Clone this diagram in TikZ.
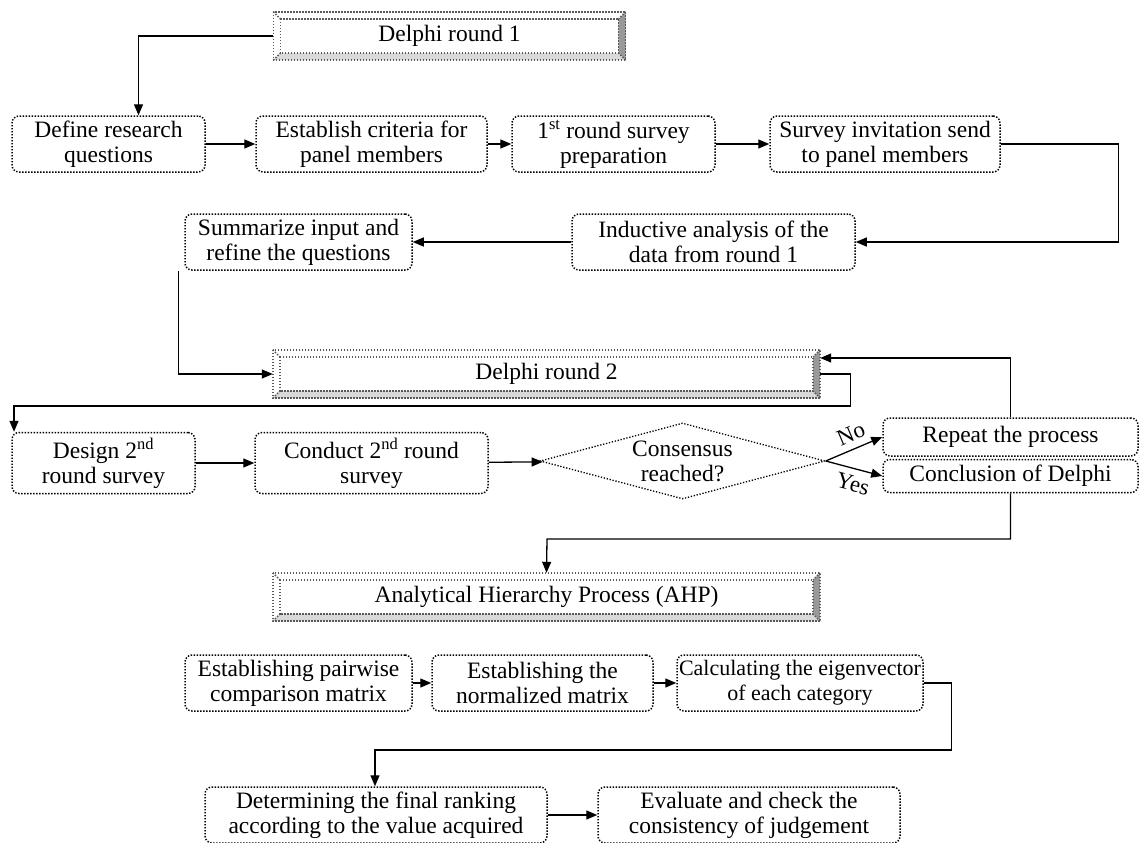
\documentclass[tikz,border=0pt]{standalone}
\usepackage{fontspec}
\setmainfont{Liberation Serif}
\usetikzlibrary{arrows.meta,shapes.geometric,calc}
\begin{document}
\begin{tikzpicture}[x=1pt,y=-1pt,
  every node/.style={inner sep=0pt, align=center},
  boxfont/.style={font=\fontsize{23.5}{25}\selectfont},
  stepbox/.style={boxfont, draw, line width=1.5pt, dash pattern=on 1.4pt off 1.6pt,
    rounded corners=7pt, minimum height=56pt},
  hdrbox/.style={boxfont, minimum height=48pt},
  decision/.style={boxfont, diamond, draw, line width=1.3pt, dash pattern=on 1.3pt off 1.7pt,
    minimum width=285pt, minimum height=76pt, aspect=3.75},
  arr/.style={line width=1.3pt, -{Triangle[length=11pt,width=9pt]}},
  answer/.style={font=\fontsize{23}{25}\selectfont, sloped},
  bandlight/.style={fill=black!15},
  banddark/.style={fill=black!40},
  hdrdots/.style={draw=black!65, line width=1.5pt, dash pattern=on 1.5pt off 1.5pt}
]
\useasboundingbox (0,0) rectangle (1141,843);

% ---------- header boxes with bevelled frame ----------
\node[hdrbox, minimum width=352pt] (h1) at (449.5,36) {Delphi round 1};
\node[hdrbox, minimum width=547pt] (h2) at (546.5,374) {Delphi round 2};
\node[hdrbox, minimum width=547pt] (h3) at (546.5,597) {Analytical Hierarchy Process (AHP)};

\foreach \n in {h1,h2,h3} {
  \coordinate (\n-a) at ([shift={(7,7)}]\n.north west);
  \coordinate (\n-b) at ([shift={(-7,7)}]\n.north east);
  \coordinate (\n-c) at ([shift={(-7,-7)}]\n.south east);
  \coordinate (\n-d) at ([shift={(7,-7)}]\n.south west);
  \fill[bandlight] (\n.south west) -- (\n.south east) -- (\n-c) -- (\n-d) -- cycle;
  \fill[banddark] (\n.north east) -- (\n.south east) -- (\n-c) -- (\n-b) -- cycle;
  \draw[hdrdots] (\n.north west) rectangle (\n.south east);
  \draw[hdrdots] (\n-a) rectangle (\n-c);
  \draw[hdrdots] (\n.north west) -- (\n-a) (\n.north east) -- (\n-b)
                 (\n.south east) -- (\n-c) (\n.south west) -- (\n-d);
}

% ---------- Delphi round 1 ----------
\node[stepbox, minimum width=193pt] (r1a) at (108.5,144) {Define research\\questions};
\node[stepbox, minimum width=231pt] (r1b) at (371.5,144) {Establish criteria for\\panel members};
\node[stepbox, minimum width=203pt] (r1c) at (613.5,144) {1\textsuperscript{st} round survey\\preparation};
\node[stepbox, minimum width=230pt] (r1d) at (885,144) {Survey invitation send\\to panel members};
\node[stepbox, minimum width=227pt] (r2a) at (298.5,242) {Summarize input and\\refine the questions};
\node[stepbox, minimum width=283pt] (r2b) at (713.5,242) {Inductive analysis of the\\data from round 1};

% ---------- Delphi round 2 ----------
\node[stepbox, minimum width=183pt, minimum height=61pt] (r3a) at (103.5,463) {Design 2\textsuperscript{nd}\\round survey};
\node[stepbox, minimum width=233pt, minimum height=61pt] (r3b) at (371.5,463) {Conduct 2\textsuperscript{nd} round\\survey};
\node[decision] (dec) at (682.5,461) {Consensus\\reached?};
\node[stepbox, minimum width=255pt, minimum height=38pt] (rep) at (1010.5,437) {Repeat the process};
\node[stepbox, minimum width=255pt, minimum height=33pt] (conc) at (1010.5,476) {Conclusion of Delphi};

% ---------- AHP ----------
\node[stepbox, minimum width=227pt] (r4a) at (298.5,683) {Establishing pairwise\\comparison matrix};
\node[stepbox, minimum width=221pt] (r4b) at (542.5,683) {Establishing the\\normalized matrix};
\node[stepbox, minimum width=246pt, font=\fontsize{22}{25}\selectfont] (r4c) at (800,683) {Calculating the eigenvector\\of each category};
\node[stepbox, minimum width=342pt] (r5a) at (376,815) {Determining the final ranking\\according to the value acquired};
\node[stepbox, minimum width=302pt] (r5b) at (749,815) {Evaluate and check the\\consistency of judgement};

% ---------- connectors ----------
\draw[arr] (h1.west) -| ([xshift=30pt]r1a.north);
\draw[arr] (r1a) -- (r1b);
\draw[arr] (r1b) -- (r1c);
\draw[arr] (r1c) -- (r1d);
\draw[arr] (r1d.east) -- ++(118,0) |- (r2b.east);
\draw[arr] (r2b) -- (r2a);
\draw[arr] ([xshift=-6pt]r2a.south west) |- (h2.west);
\draw[arr] (rep.north) |- ([yshift=16pt]h2.east);
\coordinate (drop) at (14,406);
\draw[arr] (h2.east) -- ++(30,0) |- (drop) -- (drop |- r3a.north);
\draw[arr] (r3a) -- (r3b);
\draw[arr] (r3b) -- (dec);
\draw[arr] (dec.east) -- node[answer, above=7pt, pos=0.55] {No} (rep.west);
\draw[arr] (dec.east) -- node[answer, below=7pt, pos=0.55] {Yes} (conc.west);
\draw[arr] (conc.south) |- (547,539) -- (h3.north);
\draw[arr] (r4a) -- (r4b);
\draw[arr] (r4b) -- (r4c);
\coordinate (fold) at (375,750);
\draw[arr] (r4c.east) -- ++(28,0) |- (fold) -- (fold |- r5a.north);
\draw[arr] (r5a) -- (r5b);
\end{tikzpicture}
\end{document}
